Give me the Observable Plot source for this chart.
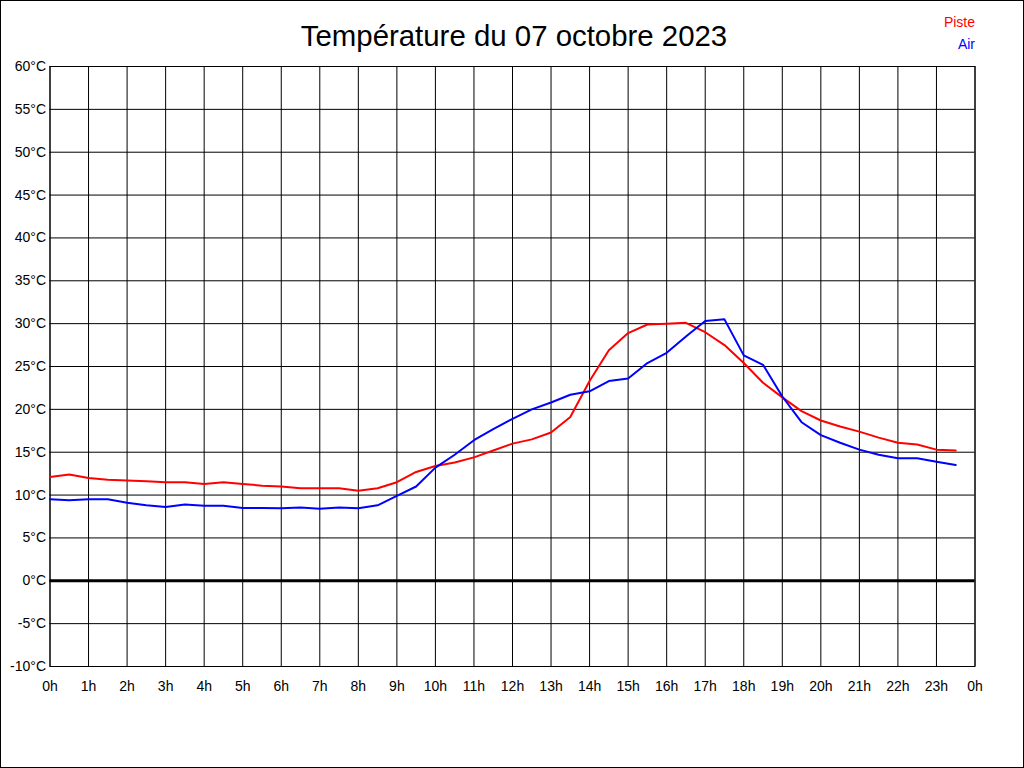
<!DOCTYPE html>
<html>
<head>
<meta charset="utf-8">
<script src="https://cdn.jsdelivr.net/npm/d3@7"></script>
<script src="https://cdn.jsdelivr.net/npm/@observablehq/plot@0.6"></script>
<style>
  html, body { margin: 0; padding: 0; background: #fff; }
  #wrap { position: relative; width: 1024px; height: 768px; overflow: hidden; font-family: "Liberation Sans", Arial, sans-serif; }
  #chart { position: absolute; left: 0; top: 0; }
  #border { position: absolute; left: 0; top: 0; width: 1024px; height: 768px; box-sizing: border-box; border: 1px solid #000; pointer-events: none; }
  #title { position: absolute; left: 0; top: 17px; width: 1028px; text-align: center; font-size: 29.4px; line-height: 38px; color: #000; }
  .leg { position: absolute; right: 49px; font-size: 14px; line-height: 16px; }
</style>
</head>
<body>
<div id="wrap">
  <div id="chart"></div>
  <div id="title">Température du 07 octobre 2023</div>
  <div class="leg" style="top:14px;color:#ff0000">Piste</div>
  <div class="leg" style="top:36px;color:#0000ff">Air</div>
  <div id="border"></div>
</div>
<script>
const hours = [0,0.5,1,1.5,2,2.5,3,3.5,4,4.5,5,5.5,6,6.5,7,7.5,8,8.5,9,9.5,10,10.5,11,11.5,12,12.5,13,13.5,14,14.5,15,15.5,16,16.5,17,17.5,18,18.5,19,19.5,20,20.5,21,21.5,22,22.5,23,23.5];
const piste = [12.1,12.4,12.0,11.8,11.7,11.6,11.5,11.5,11.3,11.5,11.3,11.1,11.0,10.8,10.8,10.8,10.5,10.8,11.5,12.7,13.4,13.8,14.4,15.2,16.0,16.5,17.3,19.1,23.3,26.9,28.9,29.9,30.0,30.1,29.0,27.5,25.4,23.1,21.4,19.8,18.7,18.0,17.4,16.7,16.1,15.9,15.3,15.2];
const air = [9.5,9.4,9.5,9.5,9.1,8.8,8.6,8.9,8.75,8.75,8.5,8.5,8.45,8.55,8.4,8.55,8.45,8.8,9.9,11.0,13.2,14.7,16.4,17.7,18.9,20.0,20.8,21.7,22.1,23.3,23.6,25.4,26.6,28.5,30.3,30.5,26.3,25.2,21.5,18.5,17.0,16.1,15.3,14.7,14.3,14.3,13.9,13.5];
const hourTicks = [0,1,2,3,4,5,6,7,8,9,10,11,12,13,14,15,16,17,18,19,20,21,22,23,24];
const hourLabels = ["0h","1h","2h","3h","4h","5h","6h","7h","8h","9h","10h","11h","12h","13h","14h","15h","16h","17h","18h","19h","20h","21h","22h","23h","0h"];
const tempTicks = [-10,-5,0,5,10,15,20,25,30,35,40,45,50,55,60];
const tempLabels = ["-10°C","-5°C","0°C","5°C","10°C","15°C","20°C","25°C","30°C","35°C","40°C","45°C","50°C","55°C","60°C"];

const rows = [];
hours.forEach((h, i) => {
  rows.push({h, t: piste[i], s: "Piste"});
  rows.push({h, t: air[i], s: "Air"});
});

const chart = Plot.plot({
  width: 1024,
  height: 768,
  marginLeft: 49.5,
  marginRight: 49.5,
  marginTop: 66,
  marginBottom: 102,
  style: {fontFamily: "'Liberation Sans', Arial, sans-serif", fontSize: "14px", color: "#000", background: "transparent"},
  x: {domain: [0, 24]},
  y: {domain: [-10, 60]},
  color: {domain: ["Piste", "Air"], range: ["#ff0000", "#0000ff"]},
  marks: [
    Plot.gridX(hourTicks, {stroke: "#000", strokeOpacity: 1, strokeWidth: 1}),
    Plot.gridY(tempTicks, {stroke: "#000", strokeOpacity: 1, strokeWidth: 1}),
    Plot.frame({stroke: "#000", strokeWidth: 1}),
    Plot.ruleY([0], {stroke: "#000", strokeWidth: 3}),
    Plot.axisX(hourTicks, {tickSize: 0, tickPadding: 15, tickFormat: d => hourLabels[hourTicks.indexOf(d)], label: null, fontSize: 14}),
    Plot.axisY(tempTicks, {tickSize: 0, tickPadding: 4, tickFormat: d => tempLabels[tempTicks.indexOf(d)], label: null, fontSize: 14}),
    Plot.line(rows, {x: "h", y: "t", z: "s", stroke: "s", strokeWidth: 2, curve: "linear"})
  ]
});
document.getElementById("chart").appendChild(chart);
</script>
</body>
</html>
